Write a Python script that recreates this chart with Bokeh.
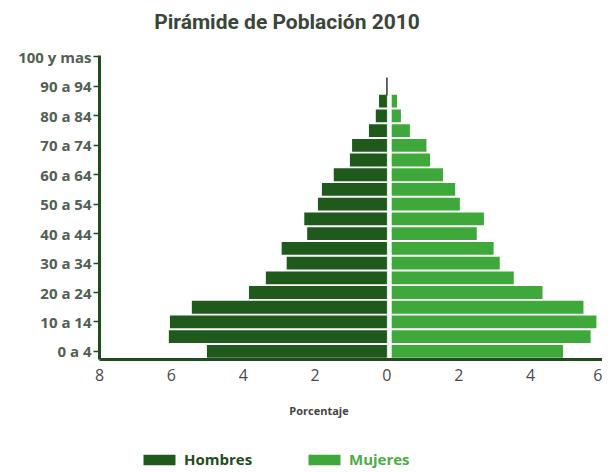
from bokeh.plotting import figure
from bokeh.layouts import column
from bokeh.models import Label, Legend, LegendItem, FixedTicker, Range1d
from bokeh.embed import file_html
from bokeh.resources import INLINE

# ---- data ----
grupos = ["0 a 4", "5 a 9", "10 a 14", "15 a 19", "20 a 24", "25 a 29", "30 a 34",
          "35 a 39", "40 a 44", "45 a 49", "50 a 54", "55 a 59", "60 a 64", "65 a 69",
          "70 a 74", "75 a 79", "80 a 84", "85 a 89", "90 a 94", "95 a 99", "100 y mas"]
hombres = [5.01, 6.07, 6.04, 5.43, 3.84, 3.37, 2.79, 2.93, 2.22, 2.30, 1.92, 1.81,
           1.48, 1.03, 0.97, 0.50, 0.31, 0.22, 0.0, 0.0, 0.0]
mujeres = [4.90, 5.67, 5.83, 5.47, 4.33, 3.53, 3.14, 2.97, 2.50, 2.70, 2.03, 1.90,
           1.56, 1.20, 1.10, 0.64, 0.39, 0.28, 0.0, 0.0, 0.0]
x_ticks = [-8, -6, -4, -2, 0, 2, 4, 6]
titulo = "Pirámide de Población 2010"
eje_x = "Porcentaje"
series = ["Hombres", "Mujeres"]

C_H = "#1f5a1c"
C_M = "#3fa83a"
C_AX = "#1f4d1d"
FONT = "Open Sans"

idx = list(range(len(grupos)))
neg_h = [-v for v in hombres]

xr = Range1d(-8, 6)

# ---- top strip: title (frame aligned with the main frame) ----
p0 = figure(width=602, height=45, output_backend="svg", toolbar_location=None,
            x_range=xr, y_range=Range1d(0, 45), x_axis_type=None, y_axis_type=None,
            min_border_left=99, min_border_right=0, min_border_top=0, min_border_bottom=0)
p0.outline_line_color = None
p0.grid.visible = False
p0.add_layout(Label(x=-2.78, y=24, text=titulo, text_align="center", text_baseline="middle",
                    text_font="Roboto", text_font_size="21px", text_font_style="bold",
                    text_color="#3a463a"))

# ---- main chart ----
p = figure(width=602, height=343, output_backend="svg", toolbar_location=None,
           x_range=xr, y_range=Range1d(-0.55, 20.1),
           min_border_left=99, min_border_right=0, min_border_top=10, min_border_bottom=29)
p.outline_line_color = None
p.grid.visible = False

rh = p.hbar(y=idx, left=neg_h, right=0, height=0.87, fill_color=C_H, line_color=None)
rm = p.hbar(y=idx, left=0, right=mujeres, height=0.87, fill_color=C_M, line_color=None)

# white gap at centre and thin dark line above the bars
p.segment(x0=[0.07], y0=[-0.5], x1=[0.07], y1=[17.5], line_color="white", line_width=4.5)
p.segment(x0=[0.0], y0=[17.4], x1=[0.0], y1=[18.6], line_color="#333333", line_width=1.5)

xa = p.xaxis[0]
xa.ticker = FixedTicker(ticks=x_ticks)
xa.major_label_overrides = {t: str(abs(t)) for t in x_ticks}
xa.axis_line_color = C_AX
xa.axis_line_width = 3
xa.major_tick_line_color = None
xa.minor_tick_line_color = None
xa.major_label_text_font = FONT
xa.major_label_text_font_size = "16px"
xa.major_label_text_color = "#4a4a4a"
xa.major_label_standoff = 3

ya = p.yaxis[0]
ya.ticker = FixedTicker(ticks=idx[::2])
ya.major_label_overrides = {i: grupos[i] for i in idx[::2]}
ya.axis_line_color = C_AX
ya.axis_line_width = 3
ya.major_tick_line_color = C_AX
ya.major_tick_line_width = 1.5
ya.major_tick_out = 6
ya.major_tick_in = 0
ya.minor_tick_line_color = None
ya.major_label_text_font = FONT
ya.major_label_text_font_size = "15px"
ya.major_label_text_font_style = "bold"
ya.major_label_text_color = "#526052"
ya.major_label_standoff = 2

# ---- lower strip: axis title and legend (frame aligned with the main frame) ----
p2 = figure(width=602, height=82, output_backend="svg", toolbar_location=None,
            x_range=xr, y_range=Range1d(100, 182),
            x_axis_type=None, y_axis_type=None,
            min_border_left=99, min_border_right=0, min_border_top=0, min_border_bottom=0)
p2.outline_line_color = None
p2.grid.visible = False
p2.add_layout(Label(x=-1.89, y=160, text=eje_x, text_align="center", text_baseline="middle",
                    text_font=FONT, text_font_size="11px", text_font_style="bold",
                    text_color="#444444"))
# same series, outside this strip's visible range: only used for the legend swatches
lh = p2.hbar(y=idx, left=neg_h, right=0, height=0.87, fill_color=C_H, line_color=None)
lm = p2.hbar(y=idx, left=0, right=mujeres, height=0.87, fill_color=C_M, line_color=None)
for r, name, col, loc in [(lh, series[0], "#1f4d1d", (40, 1)),
                          (lm, series[1], "#4cae44", (205, 1))]:
    lg = Legend(items=[LegendItem(label=name, renderers=[r])], location=loc,
                orientation="horizontal", glyph_width=40, glyph_height=13,
                label_standoff=5, padding=0, margin=0, spacing=0,
                border_line_color=None, background_fill_alpha=0,
                label_text_font=FONT, label_text_font_size="15px",
                label_text_font_style="bold", label_text_color=col)
    p2.add_layout(lg, "center")

open("out.html", "w").write(file_html(column(p0, p, p2, spacing=0), INLINE))
